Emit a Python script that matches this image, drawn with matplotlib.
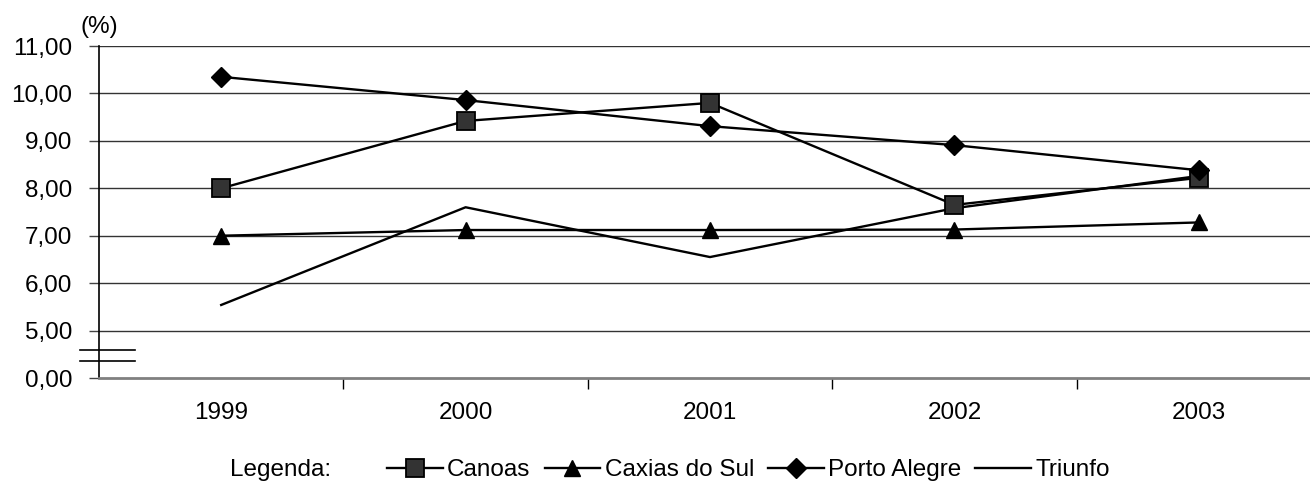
import matplotlib.pyplot as plt
from matplotlib.lines import Line2D
import matplotlib.transforms as mtransforms

plt.rcParams['font.family'] = ['Liberation Sans', 'DejaVu Sans']

anos = ['1999', '2000', '2001', '2002', '2003']
canoas = [8.00, 9.42, 9.80, 7.65, 8.22]
caxias = [7.00, 7.12, 7.12, 7.13, 7.28]
porto_alegre = [10.35, 9.86, 9.31, 8.91, 8.38]
triunfo = [5.54, 7.60, 6.55, 7.58, 8.26]

# y axis is broken: 0,00 is drawn one step below 5,00
yticks = [4, 5, 6, 7, 8, 9, 10, 11]
ylabels = ['0,00', '5,00', '6,00', '7,00', '8,00', '9,00', '10,00', '11,00']

W, H = 1310, 483
fs = 17.5
fig = plt.figure(figsize=(W / 100, H / 100), dpi=100)
ax = fig.add_axes([99 / W, 105 / H, 1222 / W, 332 / H])

x = list(range(len(anos)))
lw = 1.7
sq = dict(marker='s', ms=12.3, mfc='#333333', mec='black', mew=1.3)
tri = dict(marker='^', ms=11.5)
dia = dict(marker='D', ms=10.5)
ax.plot(x, triunfo, color='black', lw=lw, zorder=3)
ax.plot(x, caxias, color='black', lw=lw, zorder=4, **tri)
ax.plot(x, canoas, color='black', lw=lw, zorder=5, **sq)
ax.plot(x, porto_alegre, color='black', lw=lw, zorder=6, **dia)

ax.set_xlim(-0.5, len(anos) - 0.5)
ax.set_ylim(4, 11)
ax.set_yticks(yticks)
ax.set_yticklabels(ylabels, fontsize=fs)
ax.set_xticks(x)
ax.set_xticklabels(anos, fontsize=fs)
ax.set_xticks([i + 0.5 for i in x[:-1]], minor=True)
ax.tick_params(axis='x', which='major', length=0, pad=17)
ax.tick_params(axis='x', which='minor', length=8, width=1, direction='out', color='black')
ax.tick_params(axis='y', length=7, width=1, direction='out', color='#444444', pad=12)

for v in yticks[1:]:
    ax.axhline(v, color='#333333', lw=1, zorder=1)

for s in ['top', 'right']:
    ax.spines[s].set_visible(False)
ax.spines['left'].set_color('black')
ax.spines['left'].set_linewidth(1.2)
ax.spines['bottom'].set_color('#808080')
ax.spines['bottom'].set_linewidth(2)

# break marks on the y axis
tr = mtransforms.blended_transform_factory(ax.transAxes, ax.transData)
for yb in (4.59, 4.36):
    ax.plot([-0.0155, 0.0295], [yb, yb], color='black', lw=1.2, transform=tr, clip_on=False)

fig.text(80 / W, 1 - 27 / H, '(%)', fontsize=fs, va='center', ha='left')

fig.text(230 / W, 1 - 470 / H, 'Legenda:', fontsize=fs, va='center', ha='left')
handles = [
    Line2D([], [], color='black', lw=lw, **sq),
    Line2D([], [], color='black', lw=lw, **tri),
    Line2D([], [], color='black', lw=lw, **dia),
    Line2D([], [], color='black', lw=lw),
]
fig.legend(handles, ['Canoas', 'Caxias do Sul', 'Porto Alegre', 'Triunfo'],
           loc='center left', bbox_to_anchor=(387 / W, 1 - 470 / H), ncol=4, frameon=False,
           fontsize=fs, handlelength=2.3, handletextpad=0.17, columnspacing=0.58,
           borderpad=0, borderaxespad=0)

fig.savefig('out.png', dpi=100)
